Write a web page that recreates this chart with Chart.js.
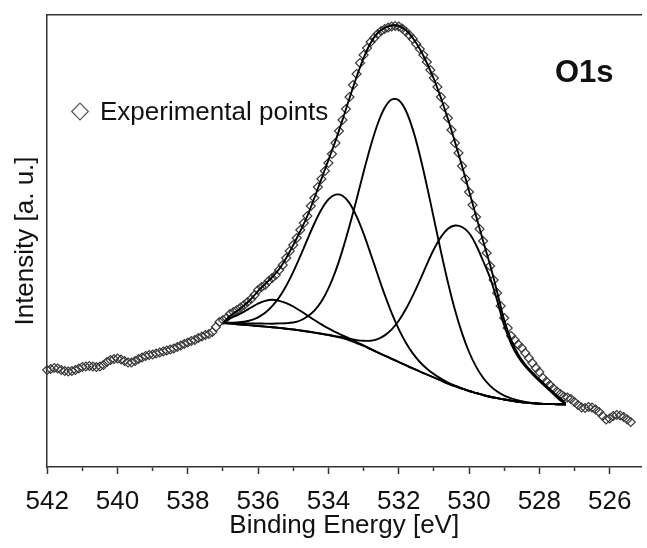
<!DOCTYPE html>
<html><head><meta charset="utf-8">
<script src="https://cdn.jsdelivr.net/npm/chart.js@4.4.1/dist/chart.umd.min.js"></script>
<style>html,body{margin:0;padding:0;background:#fff;}canvas{display:block;}</style>
</head><body>
<canvas id="c" width="647" height="548"></canvas>
<script>
const FONT = '"Liberation Sans", Arial, Helvetica, sans-serif';
const panelLabel = 'O1s';
const seriesLabel = 'Experimental points';

const expEnergy = [
542.0,541.9,541.8,541.7,541.6,541.5,541.4,541.3,541.2,541.1,
541.0,540.9,540.8,540.7,540.6,540.5,540.4,540.3,540.2,540.1,
540.0,539.9,539.8,539.7,539.6,539.5,539.4,539.3,539.2,539.1,
539.0,538.9,538.8,538.7,538.6,538.5,538.4,538.3,538.2,538.1,
538.0,537.9,537.8,537.7,537.6,537.5,537.4,537.3,537.2,537.1,
537.0,536.9,536.8,536.7,536.6,536.5,536.4,536.3,536.2,536.1,
536.0,535.9,535.8,535.7,535.6,535.5,535.4,535.3,535.2,535.1,
535.0,534.9,534.8,534.7,534.6,534.5,534.4,534.3,534.2,534.1,
534.0,533.9,533.8,533.7,533.6,533.5,533.4,533.3,533.2,533.1,
533.0,532.9,532.8,532.7,532.6,532.5,532.4,532.3,532.2,532.1,
532.0,531.9,531.8,531.7,531.6,531.5,531.4,531.3,531.2,531.1,
531.0,530.9,530.8,530.7,530.6,530.5,530.4,530.3,530.2,530.1,
530.0,529.9,529.8,529.7,529.6,529.5,529.4,529.3,529.2,529.1,
529.0,528.9,528.8,528.7,528.6,528.5,528.4,528.3,528.2,528.1,
528.0,527.9,527.8,527.7,527.6,527.5,527.4,527.3,527.2,527.1,
527.0,526.9,526.8,526.7,526.6,526.5,526.4,526.3,526.2,526.1,
526.0,525.9,525.8,525.7,525.6,525.5,525.4];
const expIntensity = [
97,98,99,98.5,97,96,95.5,96,97,98.5,
100,100.5,101,100.5,100,100.5,102,105,107,108,
108.5,107.5,106,104.5,104.5,106,108,109.5,111,112,
112.5,113.5,114.5,115.5,116.5,117.5,118.5,120,121.5,123,
124.5,126,127,129,130.5,132,133,135,140,145,
147,149,153,155,157,159.5,162,165,168,172,
177,180,182,186,189,192,197,202,209,216,
222,229,237,244,251,261,269,280,288,296,
304,313,324,336,347,358,370,382,393,404,
412,419,425,429,433,436,438,439.5,440.5,441,
440.5,438.5,435.5,432,428,423,418,412,405,397,
389,380,370,360,349,337,324,314,301,288,
275,262,250,238,226,214,201,187,174,161,
149,139,131,127,122.5,119,114,109,104,99,
95,89,85.5,82,78.5,75.5,73,70.5,69.5,68,
65,62,59.5,59,60,59.5,57.5,55,51,47.5,
48.5,51,52,51.5,50,47.5,45];

const fitEnergy = [537.0,536.8,536.6,536.4,536.2,536.0,535.8,535.6,535.4,535.2,
535.0,534.8,534.6,534.4,534.2,534.0,533.8,533.6,533.4,533.2,
533.0,532.8,532.6,532.4,532.2,532.0,531.8,531.6,531.4,531.2,
531.0,530.8,530.6,530.4,530.2,530.0,529.8,529.6,529.4,529.2,
529.0,528.8,528.6,528.4,528.2,528.0,527.8,527.6,527.4,527.25];
const envelope = [144,151,156,161.5,168,176,183,190,198,209,
222,236,251,269,288,307,326,347,369,390,
409,424,434,439,441.5,441,437,429,418,404,
388,369,348,325,301,276,251,226,202,175,
147,127,112.5,102.5,94.5,87.5,81,74.5,68,64];
const background = [144,143.4,142.8,142.2,141.6,141,140.4,139.8,139.1,138.3,
137.5,136.5,135.5,134.4,133.2,132,130.4,128.8,126.6,123.8,
121,117.8,114.6,111.4,108.2,105,101.8,98.6,95.5,92.5,
89.5,86.5,83.5,80.8,78.4,76,74,72,70.3,68.9,
67.5,66.4,65.3,64.4,63.8,63.3,63.1,62.9,62.7,62.5];
const peak1 = [144,148.7,151.7,155.4,159.5,163.4,166.2,167.3,166.2,163.9,
160.5,156.2,151.6,147,142.6,138.6,134.9,131.7,128.4,124.8,
121.6,118.1,114.6,111.4,108.2,105,101.8,98.6,95.5,92.5,
89.5,86.5,83.5,80.8,78.4,76,74,72,70.3,68.9,
67.5,66.4,65.3,64.4,63.8,63.3,63.1,62.9,62.7,62.5];
const peak2 = [144,144.3,144.5,145.2,146.8,149.7,154.2,160.8,169.7,181.3,
195.2,210.9,227.5,243.5,257.4,267.6,272.3,271.3,263.9,250.6,
233.4,213.3,192.5,172.3,153.9,137.9,124.5,113.6,105,98.3,
92.9,88.4,84.5,81.3,78.6,76,74,72,70.3,68.9,
67.5,66.4,65.3,64.4,63.8,63.3,63.1,62.9,62.7,62.5];
const peak3 = [144,143.9,143.8,143.7,143.6,143.5,143.4,143.3,143.6,143.8,
144.5,146.5,150.5,156.4,165.4,178.7,195.7,216.9,241.2,267.6,
295,320.8,343,359.2,367.5,366.7,356.5,337.6,311.8,281.3,
248.4,215.5,184.5,157,133.9,115,100.4,89.2,81.1,75.5,
71.4,68.6,66.5,65,64.1,63.3,63.1,62.9,62.7,62.5];
const peak4 = [144,143.4,142.8,142.2,141.6,141,140.4,139.8,139.1,138.3,
137.5,136.5,135.5,134.4,133.3,132.2,130.9,129.8,128.3,126.9,
126.2,126.3,127.9,131.6,137.6,146.3,157.7,171.4,186.7,202.7,
217.7,230,238.3,241.5,240,234,222,206,189,166.5,
141.5,123,110,100.5,93,86,79.5,73,66.5,63];

const xTicks = [542,541,540,539,538,537,536,535,534,533,532,531,530,529,528,527,526];
const xTickLabels = ['542','540','538','536','534','532','530','528','526'];

const pairs = (xs, ys) => xs.map((x, i) => ({x: x, y: ys[i]}));
const lineDs = (label, ys) => ({
  label: label, data: pairs(fitEnergy, ys), showLine: true, pointRadius: 0,
  borderColor: '#000', borderWidth: 1.9, tension: 0.35, fill: false, order: 1
});

const overlay = {
  id: 'overlay',
  afterDraw(chart) {
    const ctx = chart.ctx;
    const ds = chart.data.datasets[0];
    ctx.save();
    const mx = 80, my = 111.5, r = 8.3;
    ctx.beginPath();
    ctx.moveTo(mx - r, my); ctx.lineTo(mx, my - r); ctx.lineTo(mx + r, my); ctx.lineTo(mx, my + r);
    ctx.closePath();
    ctx.strokeStyle = '#555'; ctx.lineWidth = 1.2; ctx.stroke();
    ctx.fillStyle = '#111'; ctx.textAlign = 'left'; ctx.textBaseline = 'alphabetic';
    ctx.font = '26px ' + FONT;
    ctx.fillText(ds.label, 100, 120);
    ctx.font = 'bold 31px ' + FONT;
    ctx.fillText(panelLabel, 555, 82);
    ctx.restore();
  }
};

new Chart(document.getElementById('c'), {
  type: 'scatter',
  data: {
    datasets: [
      { label: seriesLabel, data: pairs(expEnergy, expIntensity), showLine: false,
        pointStyle: 'rectRot', pointRadius: 4.5, pointBorderWidth: 1.2,
        pointBorderColor: '#3a3a3a', pointBackgroundColor: 'rgba(255,255,255,0)', clip: false, order: 10 },
      lineDs('Envelope', envelope),
      lineDs('Peak 1', peak1),
      lineDs('Peak 2', peak2),
      lineDs('Peak 3', peak3),
      lineDs('Peak 4', peak4),
      lineDs('Background', background)
    ]
  },
  options: {
    responsive: false, animation: false, devicePixelRatio: 1,
    layout: { padding: { left: 6, right: 0, top: 15, bottom: 0 } },
    plugins: { legend: { display: false }, tooltip: { enabled: false } },
    scales: {
      x: {
        type: 'linear', position: 'bottom', reverse: true, min: 525.1, max: 542,
        afterBuildTicks: s => { s.ticks = xTicks.map(v => ({ value: v })); },
        ticks: {
          autoSkip: false, maxRotation: 0, padding: 15, color: '#111',
          font: { family: FONT, size: 26, lineHeight: 1 },
          callback: v => (xTickLabels.includes(String(v)) ? String(v) : '')
        },
        grid: {
          display: true, drawOnChartArea: false, drawTicks: true, tickLength: 7,
          tickColor: '#333', tickWidth: 1.5,
          tickBorderDash: c => (c.tick && xTickLabels.includes(String(c.tick.value))) ? [] : [3.5, 50]
        },
        border: { display: true, color: '#333', width: 1.5 },
        title: { display: true, text: 'Binding Energy [eV]', color: '#111',
          font: { family: FONT, size: 26, lineHeight: 0.9 }, padding: { top: -15.7, bottom: 10.3 } }
      },
      xTop: {
        type: 'linear', position: 'top', display: true,
        ticks: { display: false }, grid: { display: false, drawTicks: false },
        border: { display: true, color: '#333', width: 1.5 }
      },
      y: {
        type: 'linear', min: 0, max: 452,
        ticks: { display: false }, grid: { display: false, drawTicks: false },
        border: { display: true, color: '#333', width: 1.5 },
        title: { display: true, text: 'Intensity [a. u.]', color: '#111',
          font: { family: FONT, size: 26 }, padding: { top: 4, bottom: 6 } }
      }
    }
  },
  plugins: [overlay]
});
</script>
</body></html>
